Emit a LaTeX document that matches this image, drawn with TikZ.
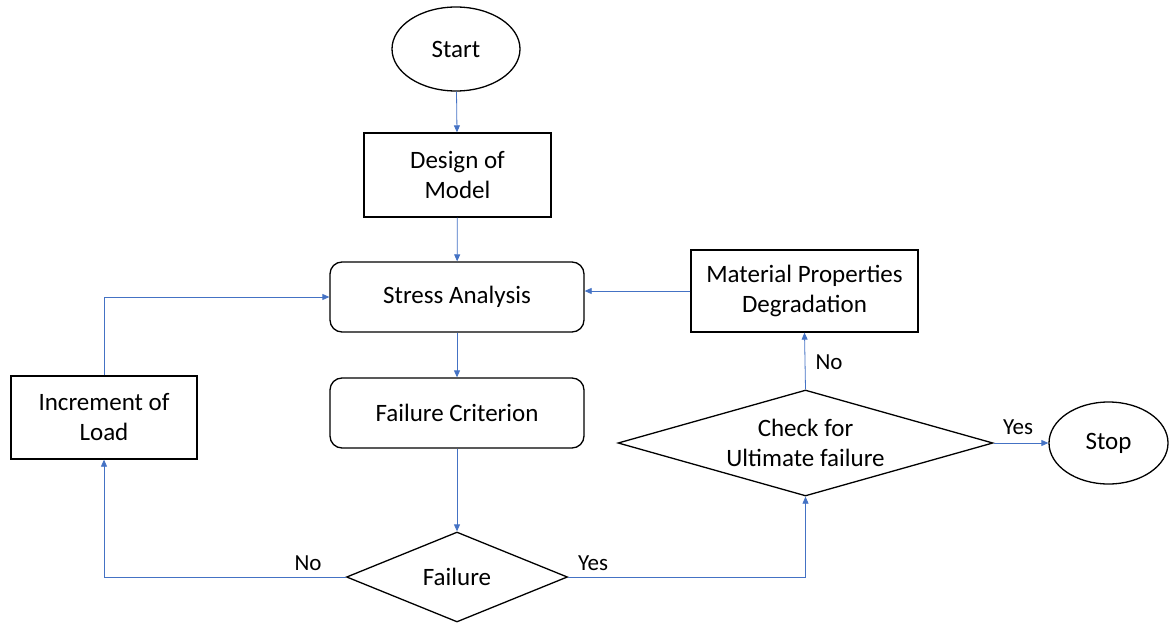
\documentclass[tikz,border=0pt]{standalone}
\usepackage{fontspec}
\setmainfont{Carlito}
\usetikzlibrary{shapes.geometric,arrows.meta}
\definecolor{flowblue}{HTML}{4472C4}
\tikzset{
  box/.style={draw=black, line width=1.3pt, rectangle, inner sep=0pt, align=center,
    font=\fontsize{25}{30}\selectfont},
  rbox/.style={box, rounded corners=12pt},
  oval/.style={box, ellipse},
  decision/.style={box, diamond},
  flow/.style={draw=flowblue, line width=0.8pt, -{Triangle[length=7pt,width=6pt]}},
  lbl/.style={font=\fontsize{23}{27}\selectfont, inner sep=0pt}
}
\begin{document}
\begin{tikzpicture}[x=1pt,y=-1pt]
\useasboundingbox (0,0) rectangle (1172,623);

% process blocks
\node[oval, minimum width=128pt, minimum height=84pt] (start) at (456,49) {Start};
\node[box, minimum width=187pt, minimum height=84pt] (design) at (457.5,175) {Design of\\Model};
\node[rbox, minimum width=254pt, minimum height=70pt] (stress) at (457,297) {Stress Analysis};
\node[rbox, minimum width=254pt, minimum height=70pt] (crit) at (457,413) {Failure Criterion};
\node[decision, aspect=2.46, minimum width=221pt, minimum height=90pt] (fail) at (457,577) {Failure};
\node[box, minimum width=186pt, minimum height=83pt] (inc) at (104,417.5) {Increment of\\Load};
\node[box, minimum width=227pt, minimum height=82pt] (mat) at (804.5,291) {Material Properties\\Degradation};
\node[decision, aspect=3.54, minimum width=375pt, minimum height=106pt] (check) at (805.5,443) {Check for\\Ultimate failure};
\node[oval, minimum width=119pt, minimum height=82pt] (stop) at (1108.5,443) {Stop};

% branch labels
\node[lbl] (noA) at (308,563) {No};
\node[lbl] (yesA) at (593,563) {Yes};
\node[lbl] (noB) at (829,362) {No};
\node[lbl] (yesB) at (1018,427) {Yes};

% connectors
\draw[flow] (start) -- (design);
\draw[flow] (design) -- (stress);
\draw[flow] (stress) -- (crit);
\draw[flow] (crit) -- (fail);
\draw[flow] (fail.west) -| (inc.south);
\draw[flow] (inc.north) |- (stress.west);
\draw[flow] (fail.east) -| (check.south);
\draw[flow] (check.north) -- (mat.south);
\draw[flow] (mat.west) -- (mat.west -| stress.east);
\draw[flow] (check.east) -- (stop.west);
\end{tikzpicture}
\end{document}
